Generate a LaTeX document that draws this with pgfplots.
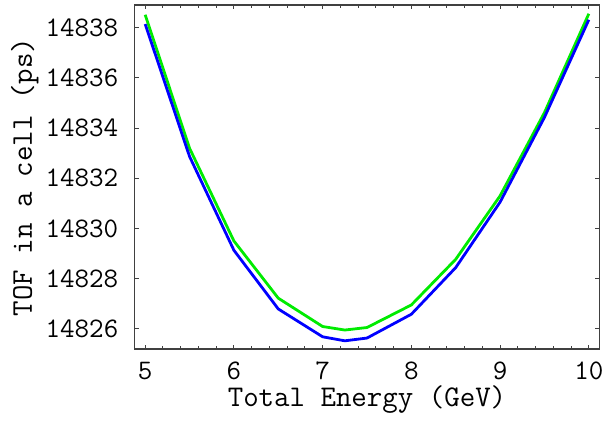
\documentclass[border=0pt]{standalone}
\usepackage{pgfplots}
\pgfplotsset{compat=1.18}
\usepackage{fontspec}
\definecolor{tofblue}{RGB}{0,0,255}
\definecolor{tofgreen}{RGB}{0,235,0}
\newcommand{\tickfont}{\ttfamily\fontsize{14.2}{16}\selectfont}
\newcommand{\labfont}{\ttfamily\fontsize{15.1}{17}\selectfont}

\begin{document}
\begin{tikzpicture}
\begin{axis}[
    scale only axis,
    width=234pt, height=173pt,
    xmin=4.877, xmax=10.123,
    ymin=14825.19, ymax=14838.91,
    xtick={5,6,...,10},
    ytick={14826,14828,...,14838},
    scaled y ticks=false,
    minor x tick num=4,
    minor y tick num=3,
    tick align=inside,
    major tick length=2.2pt,
    minor tick length=1.4pt,
    axis line style={black!75, line width=0.6pt},
    every tick/.style={black!75, line width=0.5pt},
    /pgf/number format/assume math mode=true,
    /pgf/number format/1000 sep={},
    /pgf/number format/fixed,
    /pgf/number format/precision=0,
    xticklabel={\pgfmathprintnumber{\tick}},
    yticklabel={\pgfmathprintnumber{\tick}},
    tick label style={font=\tickfont},
    xticklabel style={yshift=-3pt},
    yticklabel style={xshift=-4.5pt},
    xlabel={Total Energy (GeV)},
    ylabel={TOF in a cell (ps)},
    xlabel style={font=\labfont, at={(axis description cs:0.5,0)}, anchor=center, yshift=-25.5pt},
    ylabel style={font=\labfont, at={(axis description cs:0,0.5)}, anchor=center, yshift=55pt},
]
\addplot[tofgreen, line width=1.4pt] coordinates {
    (5,14838.52) (5.5,14833.2) (6,14829.5) (6.5,14827.22) (7,14826.09)
    (7.25,14825.95) (7.5,14826.05) (8,14826.95) (8.5,14828.77)
    (9,14831.3) (9.5,14834.62) (10,14838.56)
};
\addplot[tofblue, line width=1.4pt] coordinates {
    (5,14838.15) (5.5,14832.87) (6,14829.13) (6.5,14826.79) (7,14825.68)
    (7.25,14825.52) (7.5,14825.63) (8,14826.58) (8.5,14828.44)
    (9,14831.05) (9.5,14834.43) (10,14838.32)
};
\end{axis}
\path (current axis.south west) ++(-67.5pt,-35pt);
\path (current axis.north east) ++(3.5pt,2.5pt);
\end{tikzpicture}
\end{document}
